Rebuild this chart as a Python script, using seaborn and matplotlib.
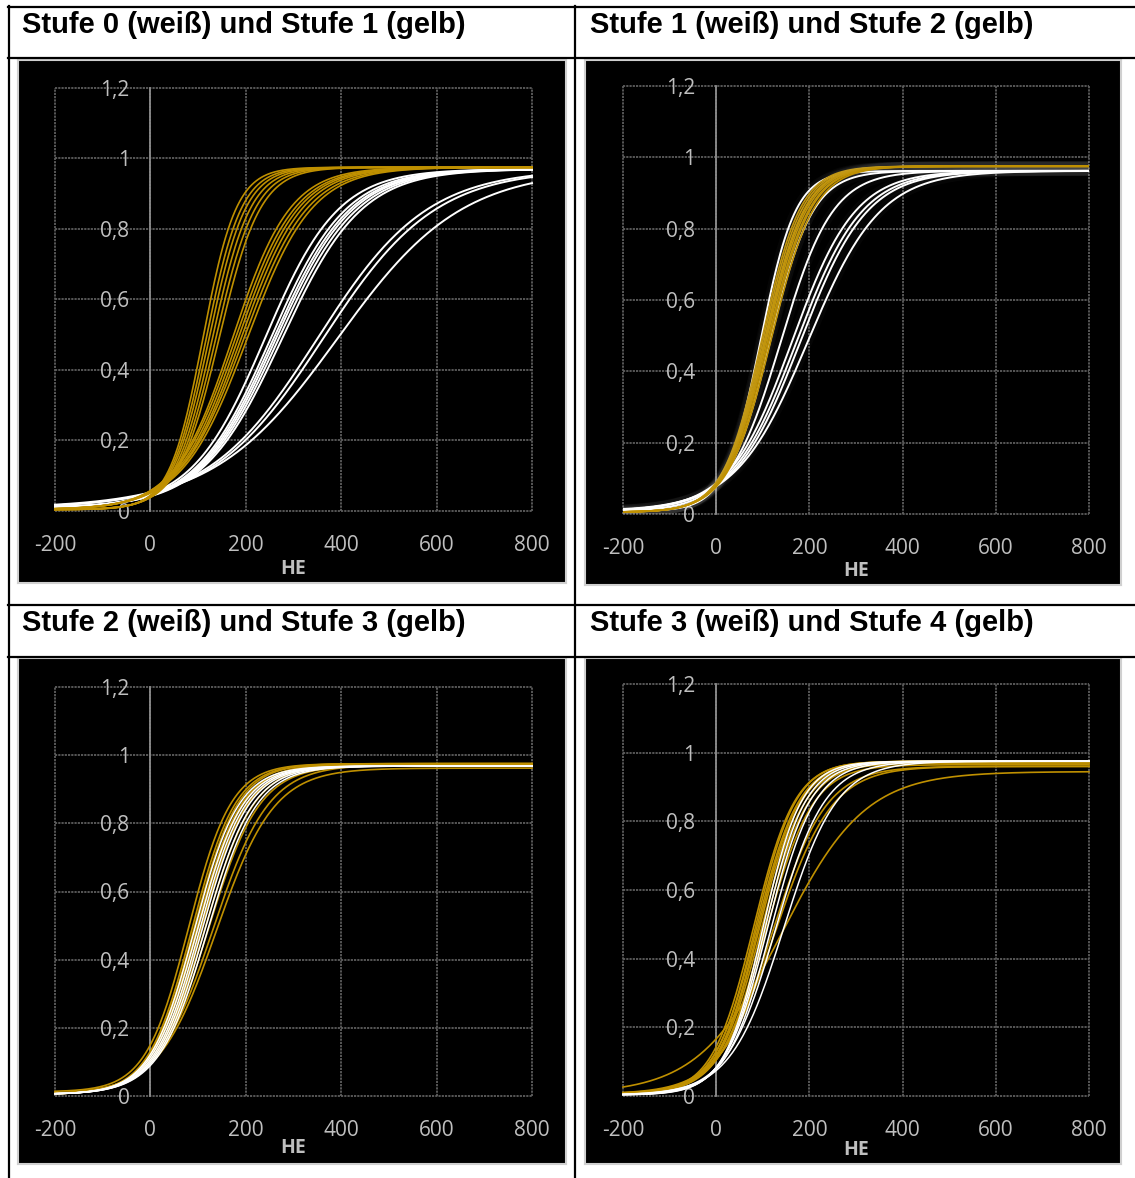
import numpy as np
import pandas as pd
import matplotlib
matplotlib.use("Agg")
import matplotlib.pyplot as plt
import matplotlib.patheffects as pe
from matplotlib.lines import Line2D
import seaborn as sns

# logistic item curves: midpoint (HE), slope, lower / upper asymptote
P1_WHITE_B = [240, 252, 258, 263, 269, 276, 350, 362, 392]
P1_WHITE_A = [0.0130, 0.0127, 0.0125, 0.0124, 0.0122, 0.0120, 0.0087, 0.0085, 0.0077]
P1_YELLOW_B = [110, 117, 123, 130, 137, 144, 172, 178, 184, 190, 196, 203]
P1_YELLOW_A = [0.0285, 0.027, 0.026, 0.025, 0.024, 0.023, 0.0165, 0.016, 0.0158, 0.0155, 0.015, 0.0147]

P2_WHITE_B = [95, 116, 139, 163, 173, 181, 197]
P2_WHITE_A = [0.0267, 0.0219, 0.018, 0.0148, 0.0143, 0.014, 0.0129]
P2_YELLOW_B = [98, 101, 104, 106, 108, 111, 114, 118]
P2_YELLOW_A = [0.024, 0.0235, 0.023, 0.023, 0.0225, 0.022, 0.022, 0.0215]

P3_WHITE_B = [92, 98, 103, 108, 114, 120]
P3_WHITE_A = [0.0215, 0.021, 0.0208, 0.0205, 0.020, 0.0195]
P3_YELLOW_B = [80, 87, 91, 96, 100, 106, 114, 121, 131, 138]
P3_YELLOW_A = [0.0223, 0.0218, 0.0215, 0.021, 0.0206, 0.0203, 0.0192, 0.0185, 0.0171, 0.0165]
P3_YELLOW_LO = [0.012, 0.005, 0.005, 0.005, 0.005, 0.005, 0.005, 0.005, 0.005, 0.005]
P3_YELLOW_HI = [0.975, 0.975, 0.975, 0.972, 0.975, 0.972, 0.975, 0.97, 0.972, 0.962]

P4_WHITE_B = [100, 105, 110, 118, 128, 145]
P4_WHITE_A = [0.024, 0.023, 0.022, 0.021, 0.019, 0.0175]
P4_YELLOW_B = [80, 84, 87, 90, 93, 97, 103, 108, 122, 128, 141]
P4_YELLOW_A = [0.0225, 0.023, 0.022, 0.0225, 0.022, 0.0215, 0.021, 0.02, 0.0175, 0.0165, 0.0112]
P4_YELLOW_HI = [0.975, 0.975, 0.975, 0.972, 0.975, 0.97, 0.97, 0.965, 0.96, 0.96, 0.945]

TITLES = ["Stufe 0 (weiß) und Stufe 1 (gelb)", "Stufe 1 (weiß) und Stufe 2 (gelb)",
          "Stufe 2 (weiß) und Stufe 3 (gelb)", "Stufe 3 (weiß) und Stufe 4 (gelb)"]
XTICKS = [-200, 0, 200, 400, 600, 800]
XLABELS = ["-200", "0", "200", "400", "600", "800"]
YTICKS = [0, 0.2, 0.4, 0.6, 0.8, 1.0, 1.2]
YLABELS = ["0", "0,2", "0,4", "0,6", "0,8", "1", "1,2"]

HE = np.linspace(-200, 800, 401)
WHITE = "#FFFFFF"
GOLD = "#BF9000"
W, H = 1135, 1178


def frame(bs, slopes, lo, hi):
    n = len(bs)
    lo = np.broadcast_to(lo, n)
    hi = np.broadcast_to(hi, n)
    rows = []
    for i in range(n):
        p = lo[i] + (hi[i] - lo[i]) / (1 + np.exp(-slopes[i] * (HE - bs[i])))
        rows.append(pd.DataFrame({"HE": HE, "p": p, "curve": i}))
    return pd.concat(rows, ignore_index=True)


panels = [
    dict(white=frame(P1_WHITE_B, P1_WHITE_A, 0.008, 0.97),
         yellow=frame(P1_YELLOW_B, P1_YELLOW_A, 0.004, 0.975),
         box=(18, 60, 566, 583), plot=(55, 88, 532, 511), he=55, title=(22, 25),
         glow=False, white_top=False, wlw=1.4),
    dict(white=frame(P2_WHITE_B, P2_WHITE_A, 0.008, 0.962),
         yellow=frame(P2_YELLOW_B, P2_YELLOW_A, 0.005, 0.975),
         box=(585, 60, 1121, 585), plot=(623, 86, 1089, 514), he=54, title=(590, 25),
         glow=True, white_top=False, wlw=1.4),
    dict(white=frame(P3_WHITE_B, P3_WHITE_A, 0.005, 0.968),
         yellow=frame(P3_YELLOW_B, P3_YELLOW_A, P3_YELLOW_LO, P3_YELLOW_HI),
         box=(18, 658, 566, 1164), plot=(55, 687, 532, 1096), he=49, title=(22, 623),
         glow=False, white_top=True, wlw=1.1),
    dict(white=frame(P4_WHITE_B, P4_WHITE_A, 0.003, 0.975),
         yellow=frame(P4_YELLOW_B, P4_YELLOW_A, 0.006, P4_YELLOW_HI),
         box=(585, 658, 1121, 1164), plot=(623, 684, 1089, 1096), he=51, title=(590, 623),
         glow=False, white_top=True, wlw=1.1),
]


def fig_rect(x0, y0, x1, y1):
    return [x0 / W, 1 - y1 / H, (x1 - x0) / W, (y1 - y0) / H]


plt.rcParams["font.family"] = ["Open Sans", "DejaVu Sans"]
fig = plt.figure(figsize=(W / 100, H / 100), dpi=100)

# table frame
for y in (6.5, 58, 605, 657):
    fig.add_artist(Line2D([8 / W, 1], [1 - y / H] * 2, color="black", lw=1.6))
for x in (8.5, 575):
    fig.add_artist(Line2D([x / W] * 2, [1 - 6 / H, 0], color="black", lw=1.6))

for k, pan in enumerate(panels):
    tx, ty = pan["title"]
    fig.text(tx / W, 1 - ty / H, TITLES[k], fontsize=21, fontweight="bold",
             family=["Liberation Sans", "DejaVu Sans"], ha="left", va="center")

    bg = fig.add_axes(fig_rect(*pan["box"]))
    bg.set_facecolor("black")
    bg.set_xticks([])
    bg.set_yticks([])
    for s in bg.spines.values():
        s.set_color("#D0D0D0")
        s.set_linewidth(1.5)

    x0, y0, x1, y1 = pan["plot"]
    ax = fig.add_axes(fig_rect(x0, y0, x1, y1))
    ax.set_facecolor("none")

    for xv in XTICKS:
        ax.axvline(xv, color="#5E5E5E", lw=1.3, ls=(0, (1.2, 0.6)), clip_on=False, zorder=1)
    for yv in YTICKS:
        ax.axhline(yv, color="#5E5E5E", lw=1.3, ls=(0, (1.2, 0.6)), clip_on=False, zorder=1)

    wz, yz = (4, 3) if pan["white_top"] else (3, 4)
    sns.lineplot(data=pan["white"], x="HE", y="p", units="curve", estimator=None,
                 color=WHITE, lw=pan["wlw"], ax=ax, legend=False, zorder=wz)
    sns.lineplot(data=pan["yellow"], x="HE", y="p", units="curve", estimator=None,
                 color=GOLD, lw=1.2, ax=ax, legend=False, zorder=yz)
    for ln in ax.lines:
        if ln.get_zorder() < 3:
            continue
        if pan["glow"]:
            # soft halo as in the second panel; stays clipped to the plot area
            ln.set_path_effects([pe.Stroke(linewidth=7, foreground=(1, 1, 1, 0.025)), pe.Normal()])
        else:
            ln.set_clip_on(False)

    ax.set_xlim(-200, 800)
    ax.set_ylim(0, 1.2)
    for s in ("top", "right", "bottom"):
        ax.spines[s].set_visible(False)
    ax.spines["left"].set_position(("data", 0))
    ax.spines["left"].set_color("#8C8C8C")
    ax.spines["left"].set_linewidth(1.3)
    ax.spines["left"].set_zorder(2)

    ax.set_xticks(XTICKS, labels=XLABELS)
    ax.set_yticks(YTICKS, labels=YLABELS)
    ax.tick_params(axis="both", length=0, labelsize=15, labelcolor="#BFBFBF")
    ax.tick_params(axis="x", pad=17)
    ax.tick_params(axis="y", pad=15)
    ax.grid(False)

    ax.set_ylabel("")
    ax.set_xlabel("HE", fontsize=14, fontweight="bold", color="#BFBFBF")
    ax.xaxis.set_label_coords(0.5, -(pan["he"] - 7) / (y1 - y0))

fig.savefig("out.png", dpi=100, facecolor="white")
